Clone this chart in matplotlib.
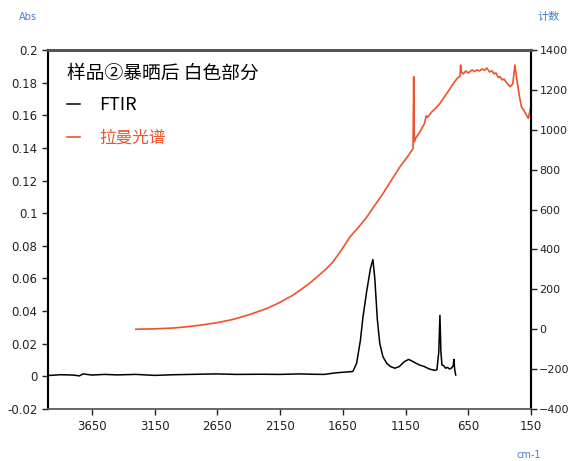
import matplotlib
matplotlib.use("Agg")
import matplotlib.pyplot as plt
from matplotlib.ticker import FuncFormatter

plt.rcParams["font.family"] = ["DejaVu Sans", "Noto Sans CJK SC"]

# FTIR absorbance (left axis)
ftir_wn = [4000, 3900, 3800, 3750, 3720, 3650, 3550, 3450, 3300, 3150, 3000, 2800,
           2650, 2500, 2300, 2150, 2000, 1900, 1800, 1700, 1650, 1600, 1570, 1540,
           1510, 1490, 1460, 1430, 1410, 1395, 1375, 1355, 1330, 1300, 1270, 1235,
           1200, 1160, 1125, 1090, 1040, 1000, 960, 920, 900, 885, 876, 868, 860,
           845, 830, 815, 800, 785, 770, 764, 758, 750]
ftir_abs = [0.0005, 0.0010, 0.0008, 0.0003, 0.0015, 0.0008, 0.0012, 0.0009, 0.0012,
            0.0006, 0.0010, 0.0013, 0.0015, 0.0012, 0.0013, 0.0012, 0.0015, 0.0013,
            0.0012, 0.0022, 0.0025, 0.0028, 0.0030, 0.0080, 0.022, 0.036, 0.052,
            0.066, 0.0716, 0.060, 0.035, 0.020, 0.012, 0.008, 0.006, 0.005, 0.006,
            0.009, 0.0104, 0.009, 0.007, 0.006, 0.0045, 0.0037, 0.004, 0.015, 0.0374,
            0.015, 0.007, 0.0065, 0.005, 0.0055, 0.0045, 0.005, 0.0065, 0.0104,
            0.004, 0.0008]

# Raman counts (right axis)
raman_wn = [3300, 3150, 3000, 2900, 2790, 2650, 2526, 2400, 2255, 2150, 2050, 1992,
            1920, 1856, 1790, 1729, 1660, 1593, 1520, 1458, 1400, 1330, 1260, 1195,
            1140, 1099, 1090, 1085, 1080, 1070, 1040, 1000, 985, 975, 940, 900, 876,
            840, 796, 760, 742, 715, 711, 705, 690, 670, 650, 620, 600, 583, 560,
            540, 520, 503, 480, 460, 445, 430, 410, 397, 380, 365, 350, 330, 317,
            295, 278, 265, 254, 240, 226, 200, 172, 160, 152]
raman_counts = [0, 2, 6, 12, 20, 33, 49, 72, 104, 135, 170, 195, 228, 262, 298, 337,
                398, 463, 515, 563, 617, 680, 750, 814, 860, 897, 905, 1266, 940,
                958, 985, 1030, 1070, 1062, 1090, 1115, 1132, 1165, 1206, 1240, 1255,
                1270, 1325, 1290, 1280, 1295, 1285, 1300, 1292, 1300, 1295, 1305,
                1298, 1310, 1290, 1295, 1280, 1285, 1262, 1266, 1250, 1255, 1240,
                1225, 1216, 1230, 1325, 1260, 1216, 1160, 1115, 1090, 1057, 1090, 1115]

x_ticks = [3650, 3150, 2650, 2150, 1650, 1150, 650, 150]
abs_ticks = [-0.02, 0, 0.02, 0.04, 0.06, 0.08, 0.1, 0.12, 0.14, 0.16, 0.18, 0.2]
count_ticks = [-400, -200, 0, 200, 400, 600, 800, 1000, 1200, 1400]

ORANGE = "#F0522A"
BLUE = "#4A7CC9"
CJK = ["Noto Sans CJK SC", "DejaVu Sans"]

fig = plt.figure(figsize=(5.73, 4.61), dpi=100)
ax = fig.add_axes([48 / 573, 52 / 461, 483 / 573, 359 / 461])
ax2 = ax.twinx()

line_ftir, = ax.plot(ftir_wn, ftir_abs, color="black", linewidth=1.1, label="FTIR")
line_raman, = ax2.plot(raman_wn, raman_counts, color=ORANGE, linewidth=1.2, label="拉曼光谱")

ax.set_xlim(4000, 150)
ax.set_xticks(x_ticks)
ax.set_ylim(-0.02, 0.2)
ax.set_yticks(abs_ticks)
ax.yaxis.set_major_formatter(FuncFormatter(lambda v, p: f"{v:g}" if abs(v) > 1e-9 else "0"))
ax2.set_ylim(-400, 1400)
ax2.set_yticks(count_ticks)

for a in (ax, ax2):
    a.tick_params(direction="out", length=4, width=1, labelsize=8.5, colors="#222222")
    a.spines["top"].set_color("#555555")
    a.spines["top"].set_linewidth(2)
    a.spines["bottom"].set_color("#666666")
    a.spines["bottom"].set_linewidth(1.2)
    a.spines["left"].set_linewidth(1.5)
    a.spines["right"].set_linewidth(1.5)
ax.tick_params(axis="x", pad=4)
ax2.tick_params(axis="y", pad=2, labelsize=8)

leg = ax2.legend(handles=[line_ftir, line_raman], loc="upper left",
                 bbox_to_anchor=(0.04, 0.965), frameon=False, borderpad=0,
                 borderaxespad=0, handlelength=0.75, handletextpad=1.15,
                 labelspacing=0.95, title="样品②暴晒后 白色部分",
                 alignment="left", prop={"family": CJK, "size": 12},
                 title_fontproperties={"family": CJK, "size": 13.5})
leg.get_texts()[0].set_fontsize(13)
leg.get_texts()[1].set_color(ORANGE)
leg._legend_box.sep = 9

fig.text(28 / 573, 1 - 17 / 461, "Abs", color=BLUE, fontsize=7, ha="center", va="center")
fig.text(549 / 573, 1 - 17 / 461, "计数", color=BLUE, fontsize=8, ha="center",
         va="center", family=CJK)
fig.text(529 / 573, 1 - 455 / 461, "cm-1", color=BLUE, fontsize=7, ha="center", va="center")

fig.savefig("out.png", dpi=100)
